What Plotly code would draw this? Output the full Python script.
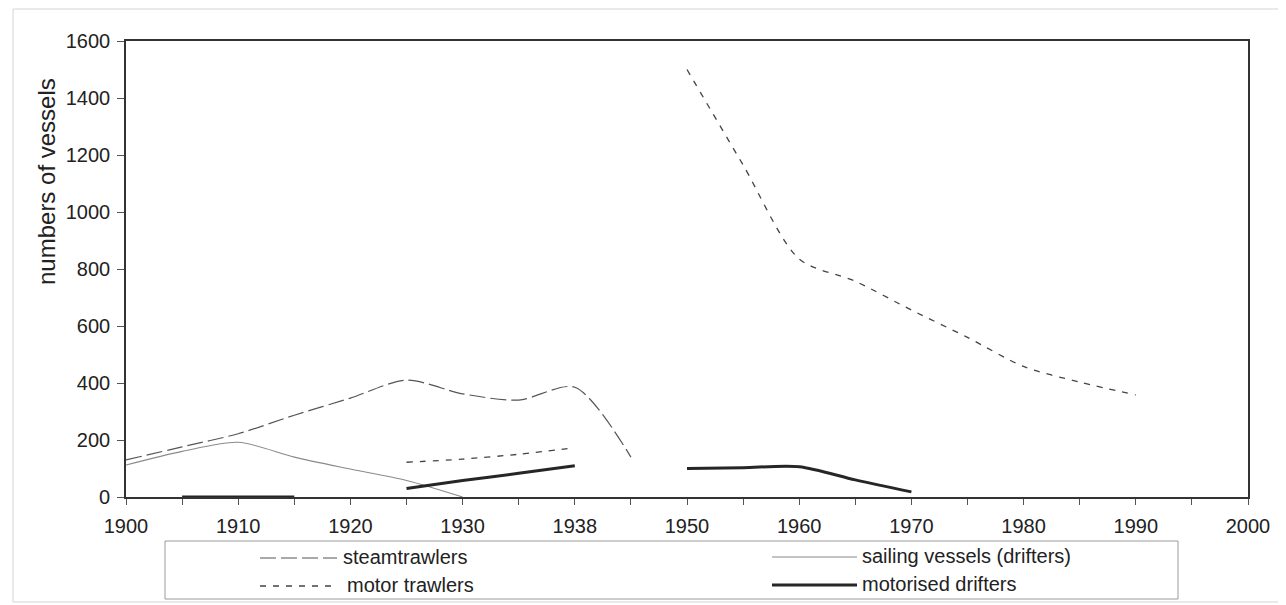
import plotly.graph_objects as go

# ---------------- data ----------------
years = ['1900', '1905', '1910', '1915', '1920', '1925', '1930', '1935', '1938', '1945',
         '1950', '1955', '1960', '1965', '1970', '1975', '1980', '1985', '1990', '1995', '2000']
tick_labels = ['1900', '', '1910', '', '1920', '', '1930', '', '1938', '',
               '1950', '', '1960', '', '1970', '', '1980', '', '1990', '', '2000']

steamtrawlers = [130, 176, 222, 287, 347, 410, 362, 340, 385, 140,
                 None, None, None, None, None, None, None, None, None, None, None]
motor_trawlers = [None, None, None, None, None, 122, 133, 150, 173, None,
                  1500, 1165, 835, 757, 656, 560, 458, 403, 358, None, None]
sailing_vessels = [112, 160, 192, 140, 98, 58, 0, None, None, None,
                   None, None, None, None, None, None, None, None, None, None, None]
motorised_drifters = [None, 0, 0, 0, None, 30, 58, 83, 110, None,
                      100, 103, 106, 60, 18, None, None, None, None, None, None]

y_ticks = [0, 200, 400, 600, 800, 1000, 1200, 1400, 1600]

# ---------------- layout helpers ----------------
BODY = 8                      # default page margin around the plot div
W_PX, H_PX = 1286 - BODY, 605 - BODY
L, R, T, B = 126, 1248, 41, 497   # plot area in window pixels
FONT = 'Liberation Sans, Arial, sans-serif'
TXT = '#222222'


def px_x(p):
    return (p - L) / (R - L)


def px_y(p):
    return (B - p) / (B - T)


styles = {
    'steamtrawlers': dict(color='#555555', width=1.2, dash='16px,5px'),
    'motor trawlers': dict(color='#444444', width=1.3, dash='6px,7px'),
    'sailing vessels (drifters)': dict(color='#8a8a8a', width=1.1, dash='solid'),
    'motorised drifters': dict(color='#262626', width=3, dash='solid'),
}
series = [
    ('steamtrawlers', steamtrawlers),
    ('motor trawlers', motor_trawlers),
    ('sailing vessels (drifters)', sailing_vessels),
    ('motorised drifters', motorised_drifters),
]

fig = go.Figure()
for name, vals in series:
    fig.add_trace(go.Scatter(
        x=years, y=vals, name=name, mode='lines',
        line=dict(shape='spline', smoothing=0.8, **styles[name]),
        connectgaps=False, showlegend=False,
    ))

fig.update_layout(
    width=W_PX, height=H_PX,
    margin=dict(l=L - BODY, r=W_PX - (R - BODY), t=T - BODY, b=H_PX - (B - BODY)),
    paper_bgcolor='white', plot_bgcolor='white',
    font=dict(family=FONT, size=20, color=TXT),
    showlegend=False,
)
fig.update_xaxes(
    type='category', categoryorder='array', categoryarray=years,
    range=[0, len(years) - 1],
    tickmode='array', tickvals=years, ticktext=tick_labels,
    ticks='outside', ticklen=6, tickcolor='#555', tickwidth=1,
    showline=True, linecolor='#333', linewidth=1.6, mirror=True,
    showgrid=False, zeroline=False,
    tickfont=dict(size=20, color=TXT, family=FONT),
    ticklabelstandoff=4,
)
fig.update_yaxes(
    range=[0, 1600], tickmode='array', tickvals=y_ticks,
    ticks='outside', ticklen=7, tickcolor='#555', tickwidth=1,
    showline=True, linecolor='#333', linewidth=1.6, mirror=True,
    showgrid=False, zeroline=False,
    tickfont=dict(size=20, color=TXT, family=FONT),
    ticklabelstandoff=3,
)

shapes = []
annotations = []

# outer chart frame
shapes.append(dict(type='rect', xref='paper', yref='paper',
                   x0=px_x(13), x1=px_x(1281), y0=px_y(602), y1=px_y(9),
                   line=dict(color='#d4d4d4', width=1), layer='below'))

# legend box
shapes.append(dict(type='rect', xref='paper', yref='paper',
                   x0=px_x(165), x1=px_x(1178), y0=px_y(599), y1=px_y(541),
                   line=dict(color='#9a9a9a', width=1), fillcolor='rgba(0,0,0,0)'))

legend_items = [
    ('steamtrawlers', 260, 337, 341, 557),
    ('motor trawlers', 260, 337, 345, 585),
    ('sailing vessels (drifters)', 772, 857, 860, 556),
    ('motorised drifters', 772, 857, 860, 584),
]
for name, sx0, sx1, tx, ty in legend_items:
    st = styles[name]
    shapes.append(dict(type='line', xref='paper', yref='paper',
                       x0=px_x(sx0), x1=px_x(sx1), y0=px_y(ty + 1), y1=px_y(ty + 1),
                       line=dict(color=st['color'], width=st['width'], dash=st['dash'])))
    annotations.append(dict(text=name, xref='paper', yref='paper',
                            x=px_x(tx), y=px_y(ty), xanchor='left', yanchor='middle',
                            showarrow=False, font=dict(size=20, color=TXT, family=FONT)))

# y-axis title
annotations.append(dict(text='numbers of vessels', xref='paper', yref='paper',
                        x=px_x(46), y=px_y(182), xanchor='center', yanchor='middle',
                        textangle=-90, showarrow=False,
                        font=dict(size=24, color=TXT, family=FONT)))

fig.update_layout(shapes=shapes, annotations=annotations)
fig.write_html('out.html')
